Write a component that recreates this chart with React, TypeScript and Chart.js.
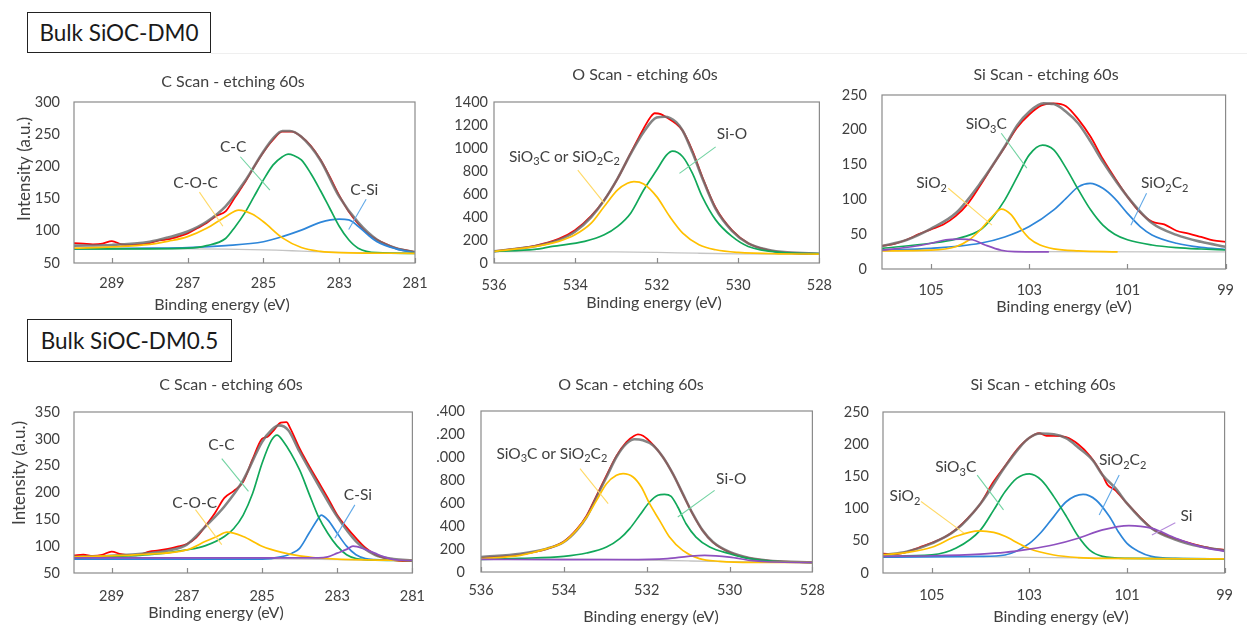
import React, { useEffect, useRef } from "react";
import { Chart, registerables } from "chart.js";
Chart.register(...registerables);

const FONT = "Lato, 'Open Sans', sans-serif";
const TXT = "#404040";
const FRAME = "#8a8a8a";
const RED = "#FF0000";
const FIT = "rgba(112,112,112,0.85)";
const BGC = "#C4C4C4";
const YEL = "#FFC000";
const GRN = "#11A85A";
const BLU = "#2E86D9";
const PUR = "#8E50BF";
const LY = "#FFD966";
const LG = "#72D3A2";
const LB = "#62A9E8";
const LP = "#B58BDB";

// ---------- Panel 1: C scan, DM0 ----------
const c0Ticks = [289, 287, 285, 283, 281];
const c0BgX = [290, 287, 286, 285, 284.5, 284, 283, 282, 281];
const c0BgY = [72, 72, 71.5, 70.5, 69.5, 68.5, 66.5, 65.5, 65];
const c0CocX = [290, 289, 288, 287.5, 287, 286.5, 286, 285.65, 285.3, 285, 284.5, 284, 283.5, 283, 281];
const c0CocY = [73, 75, 79, 84, 91, 104, 122, 132, 126, 114, 89, 74, 68, 66, 65];
const c0CcX = [290, 288, 287, 286.5, 286, 285.75, 285.5, 285.25, 285, 284.75, 284.5, 284.35, 284.2, 284, 283.75, 283.5, 283.25, 283, 282.75, 282.5, 282, 281];
const c0CcY = [72, 72, 73, 77, 88, 106, 127, 153, 179, 202, 215, 219, 217, 210, 189, 163, 135, 107, 86, 73, 66, 65];
const c0CsiX = [290, 288, 287, 286, 285, 284.5, 284, 283.5, 283, 282.75, 282.5, 282.25, 282, 281.5, 281];
const c0CsiY = [72, 73, 74, 77, 83, 91, 101, 113, 118, 117, 107, 94, 83, 72, 66];
const c0FitX = [290, 289, 288, 287.5, 287, 286.5, 286, 285.5, 285, 284.75, 284.5, 284.3, 284, 283.5, 283, 282.5, 282, 281.5, 281];
const c0FitY = [77, 78, 83, 90, 99, 114, 138, 176, 223, 243, 255, 255, 246, 210, 153, 113, 86, 73, 67];
const c0RawX = [290, 289.75, 289.5, 289.25, 289, 288.75, 288.5, 288.25, 288, 287.75, 287.5, 287.25, 287, 286.75, 286.5, 286.25, 286, 285.75, 285.5, 285.25, 285, 284.75, 284.5, 284.25, 284, 283.75, 283.5, 283.25, 283, 282.75, 282.5, 282.25, 282, 281.75, 281.5, 281.25, 281];
const c0RawY = [81, 80, 79, 80, 84, 79, 78, 79, 81, 85, 87, 91, 96, 104, 112, 123, 130, 152, 174, 199, 222, 241, 254, 254, 246, 232, 211, 184, 155, 130, 111, 96, 86, 79, 73, 70, 67];

// ---------- Panel 2: O scan, DM0 ----------
const o0Ticks = [536, 534, 532, 530, 528];
const o0BgX = [536, 533, 532, 531, 530, 528];
const o0BgY = [100, 97, 92, 85, 80, 78];
const o0SicX = [536, 534.97, 534.41, 534.01, 533.61, 533.29, 532.96, 532.72, 532.56, 532.32, 532, 531.68, 531.36, 530.96, 530.55, 530, 529, 528];
const o0SicY = [101, 144, 188, 245, 346, 491, 635, 693, 707, 687, 577, 404, 260, 159, 115, 92, 80, 78];
const o0SiOX = [536, 535, 534.57, 533.77, 533.29, 532.96, 532.64, 532.32, 532, 531.76, 531.61, 531.36, 531.12, 530.88, 530.55, 530.15, 529.75, 528.95, 528];
const o0SiOY = [101, 118, 144, 188, 245, 318, 433, 635, 808, 938, 973, 924, 779, 577, 375, 231, 144, 92, 81];
const o0FitX = [536, 534.97, 534.41, 534.01, 533.61, 533.29, 532.96, 532.64, 532.32, 532, 531.8, 531.52, 531.36, 531.12, 530.88, 530.55, 530.15, 529.75, 529.27, 528.79, 528];
const o0FitY = [101, 148, 200, 272, 400, 545, 735, 950, 1140, 1265, 1272, 1225, 1150, 960, 740, 470, 280, 170, 115, 92, 81];
const o0RawX = [536, 534.97, 534.41, 534.01, 533.61, 533.29, 532.96, 532.64, 532.32, 532.15, 532.05, 531.9, 531.75, 531.52, 531.36, 531.12, 530.88, 530.55, 530.15, 529.75, 529.27, 528.79, 528];
const o0RawY = [103, 152, 210, 285, 410, 548, 735, 955, 1170, 1270, 1302, 1295, 1265, 1210, 1150, 975, 750, 480, 285, 172, 112, 88, 80];

// ---------- Panel 3: Si scan, DM0 ----------
const s0Ticks = [105, 103, 101, 99];
const s0BgX = [106, 103, 99];
const s0BgY = [26, 25, 24.5];
const s0Sio2X = [106, 105, 104.5, 104.22, 104, 103.76, 103.57, 103.37, 103.17, 103, 102.78, 102.5, 102, 101.2];
const s0Sio2Y = [26, 27, 32, 42, 56, 75, 86, 78, 58, 44, 34.5, 29, 26, 24.5];
const s0PurX = [106, 105.4, 105, 104.7, 104.42, 104.16, 103.9, 103.57, 103.3, 102.6];
const s0PurY = [27, 32, 37, 42, 43, 42, 34.5, 27, 25, 24.5];
const s0Sio3cX = [106, 105, 104.5, 104, 103.76, 103.5, 103.24, 103, 102.73, 102.5, 102.25, 102, 101.75, 101.5, 101.26, 101, 100.5, 100, 99.5, 99];
const s0Sio3cY = [29.7, 37, 43, 56, 73, 99, 133, 164, 178, 171, 145, 114, 85, 63, 50, 42, 34.5, 30.7, 28.7, 27.3];
const s0Sio2c2X = [106, 105, 104, 103.5, 103, 102.5, 102.25, 102, 101.76, 101.5, 101.26, 101, 100.74, 100.5, 100, 99.5, 99];
const s0Sio2c2Y = [27.3, 29.7, 37, 46, 61, 85, 101.5, 118, 123, 116, 101.5, 80, 61, 49, 37, 31, 28];
const s0FitX = [106, 105.5, 105, 104.5, 104, 103.5, 103.24, 103, 102.71, 102.5, 102.25, 102, 101.75, 101.5, 101, 100.5, 100, 99.5, 99];
const s0FitY = [33, 41.7, 58, 80, 123, 176, 207, 226, 238, 237, 226, 209, 183, 154, 104, 66, 49, 39, 32];
const s0RawX = [106, 105.75, 105.5, 105.25, 105, 104.75, 104.5, 104.25, 104, 103.75, 103.5, 103.25, 103, 102.75, 102.5, 102.25, 102, 101.75, 101.5, 101.25, 101, 100.75, 100.5, 100.25, 100, 99.75, 99.5, 99.25, 99];
const s0RawY = [33, 36, 42, 50, 57, 64, 76, 94, 120, 148, 175, 203, 222, 235, 238, 234, 215, 190, 158, 130, 104, 82, 68, 64, 55, 51, 46, 41, 39];

// ---------- Panel 4: C scan, DM0.5 ----------
const c5Ticks = [289, 287, 285, 283, 281];
const c5BgX = [290, 286, 284, 282, 281];
const c5BgY = [78, 77, 76, 74, 73.5];
const c5CocX = [290, 288, 287, 286.5, 286.2, 285.93, 285.5, 285, 284.5, 284, 283.5, 283, 281];
const c5CocY = [80, 85, 93, 109, 118, 126, 118, 100, 89, 82, 78, 76, 73.5];
const c5CcX = [290, 288, 287, 286.5, 286, 285.75, 285.5, 285.25, 285, 284.75, 284.6, 284.45, 284, 283.75, 283.5, 283.25, 283, 282.75, 282.5, 282, 281];
const c5CcY = [78, 84, 93, 101, 118, 133, 158, 198, 254, 297, 307, 297, 242, 198, 155, 124, 100, 84, 77, 74, 73.5];
const c5CsiX = [290, 285, 284.5, 284.2, 284, 283.75, 283.5, 283.43, 283.25, 283, 282.75, 282.5, 282.25, 282, 281];
const c5CsiY = [76, 76, 80, 87, 96, 124, 152, 158, 149, 124, 100, 84, 77, 75, 73.5];
const c5SiX = [290, 283.5, 283.25, 283, 282.75, 282.58, 282.25, 282, 281.75, 281.5, 281];
const c5SiY = [78, 78, 80, 87, 94, 100, 94, 87, 80, 75, 73.5];
const c5FitX = [290, 289, 288, 287.5, 287, 286.5, 286, 285.5, 285, 284.75, 284.55, 284.3, 284, 283.5, 283, 282.5, 282, 281.5, 281];
const c5FitY = [80, 82, 87, 92, 103, 137, 174, 223, 294, 316, 325, 316, 276, 214, 155, 109, 84, 76, 73.5];
const c5RawX = [290, 289.75, 289.5, 289.25, 289, 288.75, 288.5, 288.25, 288, 287.75, 287.5, 287.25, 287, 286.75, 286.5, 286.25, 286, 285.75, 285.5, 285.25, 285, 284.85, 284.7, 284.5, 284.35, 284.25, 284, 283.75, 283.5, 283.25, 283, 282.75, 282.5, 282.25, 282, 281.75, 281.5, 281.25, 281];
const c5RawY = [83, 84, 82, 84, 90, 85, 83, 84, 90, 92, 95, 99, 104, 116, 138, 162, 190, 203, 220, 262, 300, 304, 315, 330, 331, 320, 282, 250, 220, 190, 158, 135, 115, 97, 85, 78, 74, 72, 72];

// ---------- Panel 5: O scan, DM0.5 ----------
const o5Ticks = [536, 534, 532, 530, 528];
const o5YLabels = ["0", "200", "400", "600", "800", ".000", ".200", ".400"];
const o5BgX = [536, 533, 532, 531, 530, 528];
const o5BgY = [116, 110, 104, 96, 90, 87];
const o5PurX = [536, 534, 532.5, 531.5, 531, 530.6, 530, 529.5, 529, 528];
const o5PurY = [110, 107, 107, 116, 136, 145, 130, 101, 87, 84];
const o5SicX = [536, 535.05, 534.41, 534, 533.69, 533.45, 533.21, 532.97, 532.73, 532.57, 532.33, 532.13, 531.93, 531.69, 531.45, 531.13, 530.73, 530.24, 529.44, 528];
const o5SicY = [116, 145, 203, 261, 365, 478, 623, 768, 841, 855, 826, 739, 594, 449, 304, 188, 116, 93, 84, 84];
const o5SiOX = [536, 535.05, 534, 533.45, 532.97, 532.65, 532.41, 532.17, 531.93, 531.73, 531.57, 531.41, 531.25, 531.05, 530.81, 530.48, 530, 529.52, 528.96, 528];
const o5SiOY = [110, 119, 136, 165, 217, 290, 377, 493, 609, 667, 675, 658, 565, 420, 304, 217, 159, 116, 93, 84];
const o5FitX = [536, 535.05, 534.41, 534, 533.69, 533.45, 533.21, 532.97, 532.73, 532.49, 532.29, 532.09, 531.85, 531.61, 531.37, 531.13, 530.89, 530.65, 530.4, 530, 529.52, 528.96, 528];
const o5FitY = [130, 159, 203, 261, 362, 478, 652, 826, 1000, 1116, 1154, 1145, 1102, 1000, 855, 681, 507, 362, 261, 174, 122, 96, 84];
const o5RawX = [536, 535.05, 534.41, 534, 533.69, 533.45, 533.21, 532.97, 532.73, 532.49, 532.3, 532.21, 532.09, 531.85, 531.61, 531.37, 531.13, 530.89, 530.65, 530.4, 530, 529.52, 528.96, 528];
const o5RawY = [122, 152, 200, 265, 370, 490, 665, 840, 1010, 1130, 1185, 1197, 1185, 1108, 1000, 855, 680, 505, 360, 258, 172, 120, 95, 84];

// ---------- Panel 6: Si scan, DM0.5 ----------
const s5Ticks = [105, 103, 101, 99];
const s5BgX = [106, 104, 102, 99];
const s5BgY = [25.8, 25, 23.5, 22];
const s5Sio2X = [106, 105.5, 105, 104.5, 104.03, 103.73, 103.5, 103.2, 103, 102.5, 102, 101.5, 99];
const s5Sio2Y = [28, 32, 40, 57, 65.5, 63, 57, 45, 37.6, 28, 24, 22.7, 22];
const s5Sio3cX = [106, 105, 104.5, 104, 103.73, 103.5, 103.26, 103, 102.75, 102.5, 102.24, 102, 101.77, 101.5, 101, 99];
const s5Sio3cY = [25.8, 28, 38.7, 67, 98, 126, 147, 154, 144, 118.6, 87.6, 57, 36, 25.8, 22.7, 22];
const s5Sio2c2X = [106, 104, 103.5, 103, 102.75, 102.5, 102.24, 101.9, 101.63, 101.36, 101.16, 101, 100.76, 100.5, 100, 99];
const s5Sio2c2Y = [24.7, 25.8, 28, 46, 64, 87.6, 111, 122, 113, 87.6, 62, 46, 33.5, 25.8, 22.7, 22];
const s5SiX = [106, 105, 104, 103.5, 103, 102.5, 102, 101.5, 100.96, 100.5, 100, 99.5, 99];
const s5SiY = [25.8, 26.8, 29.4, 32, 37, 43.8, 54, 67, 73.7, 69.6, 54, 41, 33.5];
const s5FitX = [106, 105.5, 105, 104.5, 104, 103.5, 103.19, 103, 102.78, 102.5, 102.24, 102, 101.7, 101.5, 101.23, 101, 100.5, 100, 99.5, 99];
const s5FitY = [28, 33.5, 46, 67, 108, 165, 196, 210, 216.5, 215.5, 209, 195, 175, 152, 131, 108, 69.6, 51.5, 41, 35];
const s5RawX = [106, 105.75, 105.5, 105.25, 105, 104.75, 104.5, 104.25, 104, 103.75, 103.5, 103.25, 103, 102.8, 102.65, 102.5, 102.25, 102, 101.75, 101.5, 101.4, 101.25, 101, 100.75, 100.5, 100.25, 100, 99.75, 99.5, 99.25, 99];
const s5RawY = [30, 29, 33, 40, 47, 55, 68, 86, 108, 140, 166, 192, 210, 217, 213, 213, 211, 200, 181, 152, 137, 129, 108, 88, 70, 60, 53, 47, 42, 38, 36];

// ---------- types & helpers ----------
type Curve = { xs: number[]; ys: number[]; color: string; width: number; order: number };
type Note = { text: string; tx: number; ty: number; x1: number; y1: number; x2: number; y2: number; color: string };
type Panel = {
  id: string;
  canvas: [number, number, number, number];
  plot: [number, number, number, number];
  xMin: number; xMax: number; xTicks: number[]; xPad: number;
  yMin: number; yMax: number; yStep: number; yPad: number; yLabels?: string[];
  title: string; titlePos: [number, number];
  xTitlePos: [number, number];
  yTitlePos?: [number, number];
  curves: Curve[];
  notes: Note[];
};

const cv = (xs: number[], ys: number[], color: string, width: number, order: number): Curve => ({ xs, ys, color, width, order });

function drawRich(ctx: CanvasRenderingContext2D, text: string, cx: number, cy: number, size: number) {
  const parts: { t: string; sub: boolean }[] = [];
  let buf = "";
  for (let i = 0; i < text.length; i++) {
    if (text[i] === "_" && i + 1 < text.length) {
      if (buf) parts.push({ t: buf, sub: false });
      buf = "";
      parts.push({ t: text[i + 1], sub: true });
      i++;
    } else buf += text[i];
  }
  if (buf) parts.push({ t: buf, sub: false });
  const big = `${size}px ${FONT}`;
  const small = `${Math.round(size * 0.72)}px ${FONT}`;
  let w = 0;
  parts.forEach((p) => { ctx.font = p.sub ? small : big; w += ctx.measureText(p.t).width; });
  let x = cx - w / 2;
  ctx.textAlign = "left";
  ctx.textBaseline = "middle";
  parts.forEach((p) => {
    ctx.font = p.sub ? small : big;
    ctx.fillText(p.t, x, cy + (p.sub ? size * 0.32 : 0));
    x += ctx.measureText(p.t).width;
  });
}

const PANELS: Panel[] = [
  {
    id: "c0", canvas: [0, 60, 440, 260], plot: [74, 102, 415, 263],
    xMin: 281, xMax: 290, xTicks: c0Ticks, xPad: 12,
    yMin: 50, yMax: 300, yStep: 50, yPad: 14,
    title: "C Scan - etching 60s", titlePos: [233, 82], xTitlePos: [222, 305], yTitlePos: [25, 169],
    curves: [
      cv(c0BgX, c0BgY, BGC, 1.3, 5), cv(c0RawX, c0RawY, RED, 1.8, 4), cv(c0FitX, c0FitY, FIT, 2.6, 3),
      cv(c0CocX, c0CocY, YEL, 1.7, 1), cv(c0CcX, c0CcY, GRN, 1.7, 1), cv(c0CsiX, c0CsiY, BLU, 1.7, 1),
    ],
    notes: [
      { text: "C-O-C", tx: 286.79, ty: 175, x1: 286.69, y1: 160, x2: 286.07, y2: 107, color: LY },
      { text: "C-C", tx: 285.8, ty: 230, x1: 285.61, y1: 215, x2: 284.83, y2: 163, color: LG },
      { text: "C-Si", tx: 282.34, ty: 163, x1: 282.29, y1: 149, x2: 282.75, y2: 102, color: LB },
    ],
  },
  {
    id: "o0", canvas: [440, 60, 406, 260], plot: [494, 102, 826, 263],
    xMin: 528, xMax: 536, xTicks: o0Ticks, xPad: 14,
    yMin: 0, yMax: 1400, yStep: 200, yPad: 6,
    title: "O Scan - etching 60s", titlePos: [645, 75], xTitlePos: [654, 303],
    curves: [
      cv(o0BgX, o0BgY, BGC, 1.3, 5), cv(o0RawX, o0RawY, RED, 1.8, 4), cv(o0FitX, o0FitY, FIT, 2.6, 3),
      cv(o0SicX, o0SicY, YEL, 1.7, 1), cv(o0SiOX, o0SiOY, GRN, 1.7, 1),
    ],
    notes: [
      { text: "SiO_3C or SiO_2C_2", tx: 534.27, ty: 924, x1: 533.94, y1: 808, x2: 533.29, y2: 520, color: LY },
      { text: "Si-O", tx: 530.15, ty: 1126, x1: 530.55, y1: 1010, x2: 531.44, y2: 779, color: LG },
    ],
  },
  {
    id: "s0", canvas: [830, 55, 417, 270], plot: [882, 95, 1237, 269],
    xMin: 99, xMax: 106, xTicks: s0Ticks, xPad: 13,
    yMin: 0, yMax: 250, yStep: 50, yPad: 15,
    title: "Si Scan - etching 60s", titlePos: [1046, 75], xTitlePos: [1064, 307],
    curves: [
      cv(s0BgX, s0BgY, BGC, 1.3, 5), cv(s0RawX, s0RawY, RED, 1.8, 4), cv(s0FitX, s0FitY, FIT, 2.6, 3),
      cv(s0PurX, s0PurY, PUR, 1.7, 1), cv(s0Sio2X, s0Sio2Y, YEL, 1.7, 1), cv(s0Sio3cX, s0Sio3cY, GRN, 1.7, 1),
      cv(s0Sio2c2X, s0Sio2c2Y, BLU, 1.7, 1),
    ],
    notes: [
      { text: "SiO_3C", tx: 103.875, ty: 208, x1: 103.57, y1: 195, x2: 103.05, y2: 145, color: LG },
      { text: "SiO_2", tx: 104.99, ty: 123, x1: 104.65, y1: 116, x2: 103.76, y2: 63, color: LY },
      { text: "SiO_2C_2", tx: 100.24, ty: 123, x1: 100.61, y1: 109, x2: 100.93, y2: 63, color: LB },
    ],
  },
  {
    id: "c5", canvas: [0, 370, 440, 257], plot: [74, 412, 415, 573],
    xMin: 281, xMax: 290, xTicks: c5Ticks, xPad: 15,
    yMin: 50, yMax: 350, yStep: 50, yPad: 14,
    title: "C Scan - etching 60s", titlePos: [231, 385], xTitlePos: [216, 613], yTitlePos: [20, 473],
    curves: [
      cv(c5BgX, c5BgY, BGC, 1.3, 5), cv(c5RawX, c5RawY, RED, 1.8, 4), cv(c5FitX, c5FitY, FIT, 2.6, 3),
      cv(c5SiX, c5SiY, PUR, 1.7, 1), cv(c5CocX, c5CocY, YEL, 1.7, 1), cv(c5CcX, c5CcY, GRN, 1.7, 1),
      cv(c5CsiX, c5CsiY, BLU, 1.7, 1),
    ],
    notes: [
      { text: "C-C", tx: 286.08, ty: 288, x1: 286.07, y1: 263, x2: 285.36, y2: 202, color: LG },
      { text: "C-O-C", tx: 286.79, ty: 181, x1: 286.77, y1: 168, x2: 286.07, y2: 103, color: LY },
      { text: "C-Si", tx: 282.45, ty: 195, x1: 282.53, y1: 177, x2: 283.06, y2: 115, color: LB },
    ],
  },
  {
    id: "o5", canvas: [430, 370, 405, 257], plot: [481, 411, 813, 572],
    xMin: 528, xMax: 536, xTicks: o5Ticks, xPad: 10,
    yMin: 0, yMax: 1400, yStep: 200, yPad: 16, yLabels: o5YLabels,
    title: "O Scan - etching 60s", titlePos: [631, 385], xTitlePos: [651, 617],
    curves: [
      cv(o5BgX, o5BgY, BGC, 1.3, 5), cv(o5RawX, o5RawY, RED, 1.8, 4), cv(o5FitX, o5FitY, FIT, 2.6, 3),
      cv(o5PurX, o5PurY, PUR, 1.7, 1), cv(o5SicX, o5SicY, YEL, 1.7, 1), cv(o5SiOX, o5SiOY, GRN, 1.7, 1),
    ],
    notes: [
      { text: "SiO_3C or SiO_2C_2", tx: 534.29, ty: 1029, x1: 533.61, y1: 899, x2: 532.93, y2: 594, color: LY },
      { text: "Si-O", tx: 529.96, ty: 812, x1: 530.36, y1: 710, x2: 531.25, y2: 478, color: LG },
    ],
  },
  {
    id: "s5", canvas: [830, 370, 417, 257], plot: [883, 412, 1228, 573],
    xMin: 99, xMax: 106, xTicks: s5Ticks, xPad: 14,
    yMin: 0, yMax: 250, yStep: 50, yPad: 14,
    title: "Si Scan - etching 60s", titlePos: [1043, 385], xTitlePos: [1061, 617],
    curves: [
      cv(s5BgX, s5BgY, BGC, 1.3, 5), cv(s5RawX, s5RawY, RED, 1.8, 4), cv(s5FitX, s5FitY, FIT, 2.6, 3),
      cv(s5SiX, s5SiY, PUR, 1.7, 1), cv(s5Sio2X, s5Sio2Y, YEL, 1.7, 1), cv(s5Sio3cX, s5Sio3cY, GRN, 1.7, 1),
      cv(s5Sio2c2X, s5Sio2c2Y, BLU, 1.7, 1),
    ],
    notes: [
      { text: "SiO_3C", tx: 104.51, ty: 164, x1: 104.07, y1: 152, x2: 103.53, y2: 98, color: LG },
      { text: "SiO_2", tx: 105.55, ty: 119, x1: 105.22, y1: 111, x2: 104.34, y2: 62, color: LY },
      { text: "SiO_2C_2", tx: 101.09, ty: 175, x1: 101.16, y1: 152, x2: 101.57, y2: 90, color: LB },
      { text: "Si", tx: 99.78, ty: 88, x1: 100.01, y1: 78, x2: 100.49, y2: 59, color: LP },
    ],
  },
];

function ChartPanel({ p }: { p: Panel }) {
  const ref = useRef<HTMLCanvasElement | null>(null);
  const [cx, cy, cw, ch] = p.canvas;
  useEffect(() => {
    const [L, T, R, B] = p.plot;
    const deco = {
      id: "deco_" + p.id,
      afterDatasetsDraw(chart: any) {
        const { ctx, chartArea: a, scales } = chart;
        const xs = scales.x;
        const ys = scales.y;
        ctx.save();
        ctx.strokeStyle = FRAME;
        ctx.lineWidth = 1.2;
        ctx.strokeRect(a.left, a.top, a.right - a.left, a.bottom - a.top);
        ctx.beginPath();
        p.xTicks.forEach((v) => {
          const px = Math.round(xs.getPixelForValue(v)) + 0.5;
          ctx.moveTo(px, a.bottom);
          ctx.lineTo(px, a.bottom - 5);
        });
        ctx.stroke();
        p.notes.forEach((n) => {
          ctx.strokeStyle = n.color;
          ctx.lineWidth = 1.1;
          ctx.beginPath();
          ctx.moveTo(xs.getPixelForValue(n.x1), ys.getPixelForValue(n.y1));
          ctx.lineTo(xs.getPixelForValue(n.x2), ys.getPixelForValue(n.y2));
          ctx.stroke();
          ctx.fillStyle = TXT;
          drawRich(ctx, n.text, xs.getPixelForValue(n.tx), ys.getPixelForValue(n.ty), 15.5);
        });
        ctx.fillStyle = TXT;
        ctx.font = `16px ${FONT}`;
        ctx.textAlign = "center";
        ctx.textBaseline = "middle";
        ctx.fillText(p.title, p.titlePos[0] - cx, p.titlePos[1] - cy);
        ctx.fillText("Binding energy (eV)", p.xTitlePos[0] - cx, p.xTitlePos[1] - cy);
        if (p.yTitlePos) {
          ctx.font = `17px ${FONT}`;
          ctx.translate(p.yTitlePos[0] - cx, p.yTitlePos[1] - cy);
          ctx.rotate(-Math.PI / 2);
          ctx.fillText("Intensity (a.u.)", 0, 0);
        }
        ctx.restore();
      },
    };
    const chart = new Chart(ref.current as HTMLCanvasElement, {
      type: "line",
      data: {
        datasets: p.curves.map((c) => ({
          data: c.xs.map((x, i) => ({ x, y: c.ys[i] })),
          borderColor: c.color,
          borderWidth: c.width,
          pointRadius: 0,
          fill: false,
          cubicInterpolationMode: "monotone",
          order: c.order,
        })),
      } as any,
      options: {
        animation: false,
        responsive: false,
        events: [],
        layout: { padding: { left: 0, top: T - cy, right: cx + cw - R, bottom: 0 } },
        plugins: { legend: { display: false }, tooltip: { enabled: false }, title: { display: false } },
        scales: {
          x: {
            type: "linear",
            reverse: true,
            min: p.xMin,
            max: p.xMax,
            afterBuildTicks: (s: any) => { s.ticks = p.xTicks.map((v) => ({ value: v })); },
            afterFit: (s: any) => { s.height = cy + ch - B; },
            grid: { display: false, drawTicks: false },
            border: { display: false },
            ticks: {
              padding: p.xPad, color: TXT, autoSkip: false, maxRotation: 0,
              font: { family: FONT, size: 14.5 },
              callback: (v: any) => String(v),
            },
          },
          y: {
            type: "linear",
            min: p.yMin,
            max: p.yMax,
            afterFit: (s: any) => { s.width = L - cx; },
            grid: { display: false, drawTicks: false },
            border: { display: false },
            ticks: {
              stepSize: p.yStep, padding: p.yPad, color: TXT,
              font: { family: FONT, size: 14.5 },
              callback: (v: any) => (p.yLabels ? p.yLabels[Math.round((v - p.yMin) / p.yStep)] : String(v)),
            },
          },
        },
      } as any,
      plugins: [deco],
    });
    return () => chart.destroy();
  }, [p]);
  return (
    <canvas
      ref={ref}
      width={cw}
      height={ch}
      style={{ position: "absolute", left: cx, top: cy, width: cw, height: ch }}
    />
  );
}

const boxStyle = (l: number, t: number, w: number, h: number): React.CSSProperties => ({
  position: "absolute", left: l, top: t, width: w, height: h, boxSizing: "border-box",
  border: "1.5px solid #222", display: "flex", alignItems: "center", justifyContent: "center",
  fontFamily: FONT, fontSize: 22.5, color: "#1a1a1a", background: "#fff",
});

const faint = (l: number, t: number, w: number): React.CSSProperties => ({
  position: "absolute", left: l, top: t, width: w, height: 1, background: "#efefef",
});

export default function App() {
  return (
    <div style={{ position: "absolute", left: 0, top: 0, width: 1247, height: 627, background: "#fff", overflow: "hidden" }}>
      <div style={faint(211, 53, 1036)} />
      <div style={boxStyle(27, 12, 184, 41)}>Bulk SiOC-DM0</div>
      <div style={boxStyle(27, 319, 205, 43)}>Bulk SiOC-DM0.5</div>
      {PANELS.map((p) => (
        <ChartPanel key={p.id} p={p} />
      ))}
    </div>
  );
}
